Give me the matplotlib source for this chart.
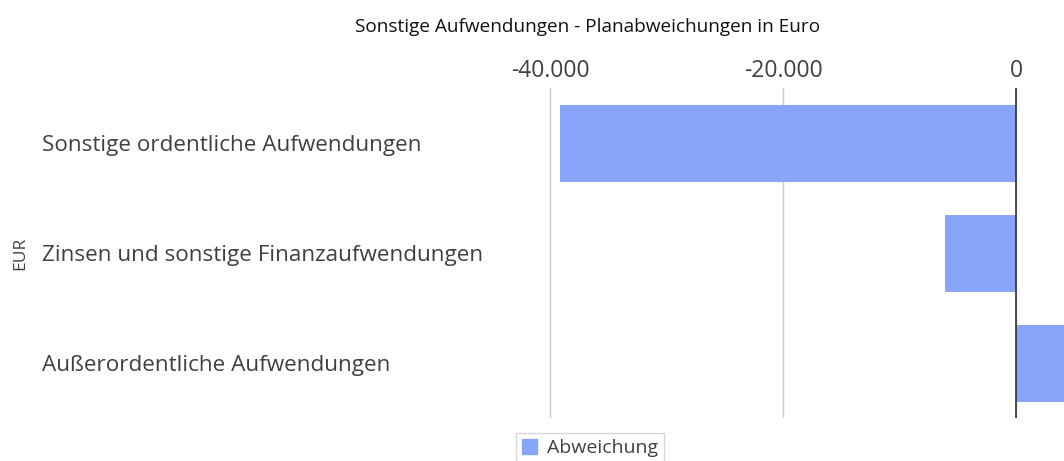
import matplotlib.pyplot as plt
from matplotlib.ticker import FuncFormatter
from matplotlib.patches import Patch

# Daten
kategorien = ["Sonstige ordentliche Aufwendungen",
              "Zinsen und sonstige Finanzaufwendungen",
              "Außerordentliche Aufwendungen"]
abweichung = [-39200, -6100, 4800]
x_ticks = [-40000, -20000, 0]

BAR_COLOR = "#89a5fb"
TEXT_COLOR = "#404040"
W, H = 1064, 461

plt.rcParams['font.family'] = ['Open Sans', 'DejaVu Sans']

fig = plt.figure(figsize=(W / 100, H / 100), dpi=100)
ax_left, ax_right, ax_top, ax_bottom = 530, 1064, 88, 418
ax = fig.add_axes([ax_left / W, 1 - ax_bottom / H,
                   (ax_right - ax_left) / W, (ax_bottom - ax_top) / H])

y = list(range(len(kategorien)))
ax.barh(y, abweichung, height=0.7, color=BAR_COLOR, zorder=2)

# Skala: 0 bei x=1016 px, 20.000 = 232.8 px
px_per_unit = 232.8 / 20000
x0 = (ax_left - 1016) / px_per_unit
x1 = (ax_right - 1016) / px_per_unit
ax.set_xlim(x0, x1)
ax.set_ylim(len(kategorien) - 0.5, -0.5)

ax.xaxis.tick_top()
ax.set_xticks(x_ticks)
ax.xaxis.set_major_formatter(FuncFormatter(lambda v, p: f"{int(v):,}".replace(",", ".")))
ax.tick_params(axis='x', length=0, pad=3.5, labelsize=16.5, labelcolor=TEXT_COLOR)
ax.grid(axis='x', color="#cccccc", lw=1, zorder=0)
ax.axvline(0, color="#333333", lw=1.2, zorder=3)

ax.set_yticks(y)
ax.set_yticklabels(kategorien, ha='left')
ax.tick_params(axis='y', length=0, pad=(ax_left - 42) * 0.72, labelsize=16.2, labelcolor=TEXT_COLOR)

for s in ax.spines.values():
    s.set_visible(False)

fig.text(588 / W, 1 - 27 / H, "Sonstige Aufwendungen - Planabweichungen in Euro",
         ha='center', va='center', fontsize=13.7, color="#111111")
fig.text(20 / W, 1 - 253 / H, "EUR", rotation=90, ha='center', va='center',
         fontsize=12.5, color=TEXT_COLOR)

fig.legend(handles=[Patch(color=BAR_COLOR, label="Abweichung")],
           loc='upper left', bbox_to_anchor=(516 / W, 1 - 433 / H),
           fontsize=14, frameon=True, fancybox=False, edgecolor="#cccccc",
           handlelength=0.8, handleheight=0.8, handletextpad=0.5,
           borderpad=0.3, borderaxespad=0, labelcolor=TEXT_COLOR)

fig.savefig("out.png", dpi=100)
